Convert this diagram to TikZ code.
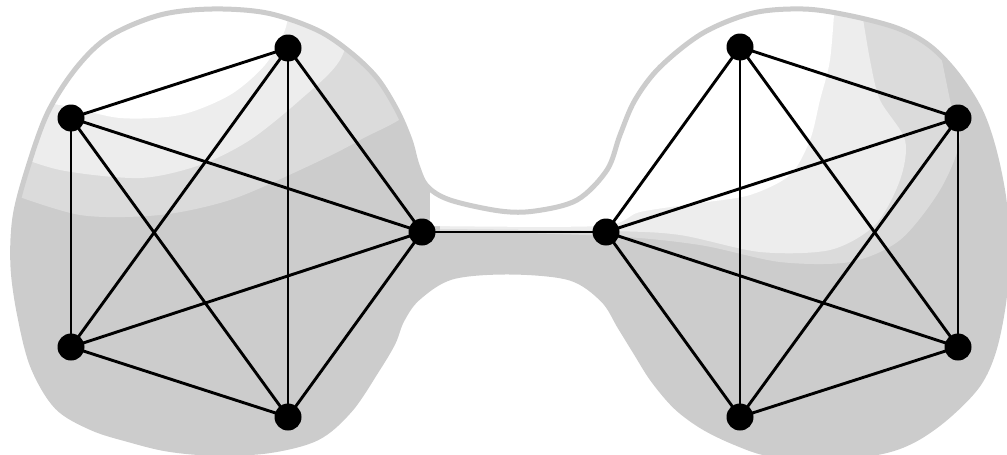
\documentclass[tikz,border=0pt]{standalone}
\definecolor{blobgray}{RGB}{204,204,204}
\begin{document}
\begin{tikzpicture}[x=1pt,y=-1pt,
  vtx/.style={circle,fill=black,minimum size=27pt,inner sep=0pt},
  edge/.style={line width=2.9pt},
  blobpath/.style={insert path={plot[smooth cycle, tension=0.55] coordinates {
    (500,211) (535,211) (577,200) (607,170) (620,135) (635,100) (660,67) (703,33)
    (753,13) (803,9) (847,15) (897,28) (930,46) (957,74) (980,110) (994,150)
    (1004,200) (1007,250) (1004,300) (994,350) (978,385) (947,417) (914,440)
    (880,452) (825,458) (770,454) (736,443) (703,427) (676,407) (653,380)
    (636,353) (620,327) (603,300) (570,278) (510,272) (452,277) (418,298)
    (402,320) (393,343) (377,370) (350,410) (317,438) (267,451) (210,453)
    (167,449) (130,440) (92,428) (57,407) (33,367) (20,317) (13,267) (15,217)
    (28,167) (48,112) (77,67) (110,36) (160,15) (212,9) (267,13) (317,30)
    (350,52) (377,78) (397,110) (410,140) (417,165) (427,186) (450,200)}}},
  pale/.style={white, opacity=#1}]
\useasboundingbox (0,0) rectangle (1007,455);
% background blob with pale, mottled upper part
\begin{scope}
  \path[clip, blobpath];
  \fill[blobgray] (0,0) rectangle (1007,470);
  % left blob
  \fill[pale=0.3] (0,0) -- (0,190)
    -- plot[smooth] coordinates {(0,190) (80,215) (160,215) (230,200) (300,170) (360,140) (420,100) (430,0)} -- cycle;
  \fill[pale=0.5] (0,0) -- (0,150)
    -- plot[smooth] coordinates {(0,150) (60,170) (140,178) (200,165) (250,140) (300,100) (340,60) (360,0)} -- cycle;
  \fill[pale=1] (0,0) -- (0,100)
    -- plot[smooth] coordinates {(0,100) (60,105) (120,118) (180,115) (230,95) (265,65) (285,30) (290,0)} -- cycle;
  % right blob and neck
  \fill[pale=0.3] (440,0) -- (440,231)
    -- plot[smooth] coordinates {(440,231) (610,236) (700,245) (780,262) (850,262) (900,240) (940,190) (960,140) (950,100) (930,0)} -- cycle;
  \fill[pale=0.5] (440,0) -- (440,229)
    -- plot[smooth] coordinates {(440,229) (610,231) (680,235) (760,252) (830,250) (875,225) (900,180) (905,140) (880,100) (870,60) (860,0)} -- cycle;
  \fill[pale=1] (430,0) -- (430,226)
    -- plot[smooth] coordinates {(430,226) (600,226) (640,212) (700,203) (750,195) (790,175) (810,140) (820,100) (830,60) (835,0)} -- cycle;
\end{scope}
\draw[blobgray, line width=5pt, blobpath];
% left K5
\node[vtx] (a1) at (288,48) {};
\node[vtx] (a2) at (71,118) {};
\node[vtx] (a3) at (422,232) {};
\node[vtx] (a4) at (71,347) {};
\node[vtx] (a5) at (288,417) {};
% right K5
\node[vtx] (b1) at (740,47) {};
\node[vtx] (b2) at (958,118) {};
\node[vtx] (b3) at (606,232) {};
\node[vtx] (b4) at (958,347) {};
\node[vtx] (b5) at (740,417) {};
\foreach \u/\v in {1/2,1/3,1/4,1/5,2/3,2/4,2/5,3/4,3/5,4/5}{
  \draw[edge] (a\u.center) -- (a\v.center);
  \draw[edge] (b\u.center) -- (b\v.center);
}
\draw[edge] (a3.center) -- (b3.center);
\end{tikzpicture}
\end{document}
